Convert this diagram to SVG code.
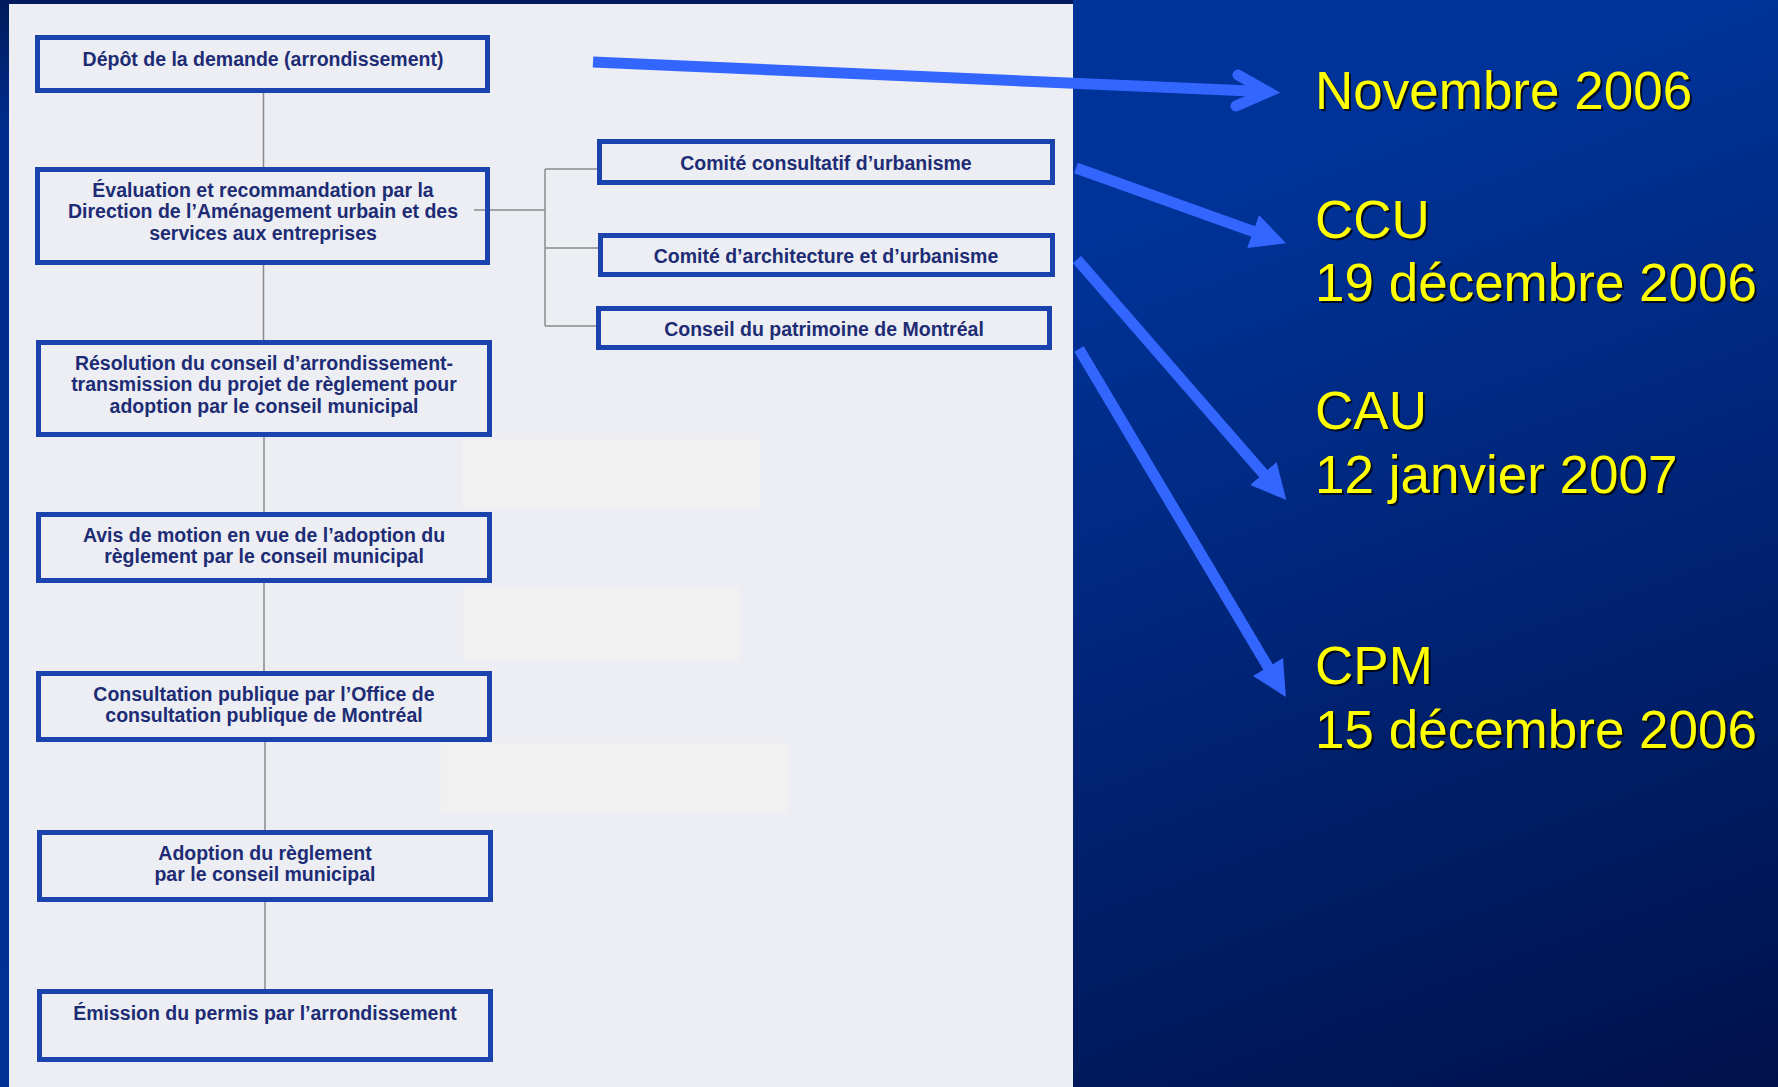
<svg xmlns="http://www.w3.org/2000/svg" width="1778" height="1087" viewBox="0 0 1778 1087">
<defs>
<linearGradient id="bg" x1="0.55" y1="0.25" x2="1" y2="1">
<stop offset="0" stop-color="#003399"/>
<stop offset="1" stop-color="#00114a"/>
</linearGradient>
<linearGradient id="strip" x1="0" y1="0" x2="0" y2="1">
<stop offset="0" stop-color="#001a5c"/>
<stop offset="0.12" stop-color="#002d8e"/>
<stop offset="1" stop-color="#003096"/>
</linearGradient>
<marker id="tri" markerUnits="userSpaceOnUse" markerWidth="36" markerHeight="36" viewBox="0 -18 36 36" refX="1" refY="0" orient="auto">
<path d="M0,-17.5 L35,0 L0,17.5 z" fill="#3366ff"/>
</marker>
<style>
.box{fill:none;stroke:#1a43ad;stroke-width:5}
.bt{font-family:"Liberation Sans",Arial,sans-serif;font-weight:bold;font-size:19.5px;fill:#1d2c74;text-anchor:middle}
.con{stroke:#8a8a8a;stroke-width:1.5;fill:none}
.arr{stroke:#3366ff;stroke-width:11;fill:none}
.yt{font-family:"Liberation Sans",Arial,sans-serif;font-size:53px;fill:#ffff00}
.sh{font-family:"Liberation Sans",Arial,sans-serif;font-size:53px;fill:#000;opacity:0.75}
.patch{fill:#f1f1f2}
</style>
</defs>
<rect x="0" y="0" width="1778" height="1087" fill="url(#bg)"/>
<rect x="0" y="0" width="1073" height="1087" fill="url(#strip)"/>
<rect x="0" y="0" width="1073" height="4" fill="#001a5c"/>
<rect x="9" y="4" width="1064" height="1083" fill="#eceef3"/>
<rect class="patch" x="462" y="439" width="298" height="70"/>
<rect class="patch" x="463" y="588" width="277" height="72"/>
<rect class="patch" x="441" y="743" width="346" height="70"/>

<g id="connectors">
<line class="con" x1="263.5" y1="93" x2="263.5" y2="167"/>
<line class="con" x1="263.5" y1="265" x2="263.5" y2="340"/>
<line class="con" x1="264" y1="437" x2="264" y2="512"/>
<line class="con" x1="264" y1="583" x2="264" y2="671"/>
<line class="con" x1="265" y1="742" x2="265" y2="830"/>
<line class="con" x1="265" y1="902" x2="265" y2="989"/>
<line class="con" x1="474" y1="210" x2="545" y2="210"/>
<line class="con" x1="545" y1="169" x2="545" y2="326"/>
<line class="con" x1="545" y1="169" x2="598" y2="169"/>
<line class="con" x1="545" y1="248" x2="598" y2="248"/>
<line class="con" x1="545" y1="326" x2="597" y2="326"/>
<line class="arr" x1="593" y1="62" x2="1262" y2="91.5" stroke-linecap="butt"/>
<polyline class="arr" points="1238,75 1268,92 1236,106" stroke-linecap="round" stroke-linejoin="miter" stroke-width="12"/>
<line class="arr" x1="1076" y1="168" x2="1254" y2="231.8" marker-end="url(#tri)"/>
<line class="arr" x1="1077" y1="259.5" x2="1264" y2="474.3" marker-end="url(#tri)"/>
<line class="arr" x1="1079" y1="349" x2="1268.5" y2="667.8" marker-end="url(#tri)"/>
</g>

<g id="n1"><rect class="box" x="37.5" y="37.5" width="450" height="53"/>
<text class="bt" x="263" y="65.5">Dépôt de la demande (arrondissement)</text></g>
<g id="n2"><rect class="box" x="37.5" y="169.5" width="450" height="93"/>
<text class="bt" x="263" y="196.5">Évaluation et recommandation par la</text>
<text class="bt" x="263" y="218">Direction de l’Aménagement urbain et des</text>
<text class="bt" x="263" y="239.5">services aux entreprises</text></g>
<g id="n3"><rect class="box" x="38.5" y="342.5" width="451" height="92"/>
<text class="bt" x="264" y="369.5">Résolution du conseil d’arrondissement-</text>
<text class="bt" x="264" y="391">transmission du projet de règlement pour</text>
<text class="bt" x="264" y="412.5">adoption par le conseil municipal</text></g>
<g id="n4"><rect class="box" x="38.5" y="514.5" width="451" height="66"/>
<text class="bt" x="264" y="541.5">Avis de motion en vue de l’adoption du</text>
<text class="bt" x="264" y="563">règlement par le conseil municipal</text></g>
<g id="n5"><rect class="box" x="38.5" y="673.5" width="451" height="66"/>
<text class="bt" x="264" y="700.5">Consultation publique par l’Office de</text>
<text class="bt" x="264" y="722">consultation publique de Montréal</text></g>
<g id="n6"><rect class="box" x="39.5" y="832.5" width="451" height="67"/>
<text class="bt" x="265" y="859.5">Adoption du règlement</text>
<text class="bt" x="265" y="881">par le conseil municipal</text></g>
<g id="n7"><rect class="box" x="39.5" y="991.5" width="451" height="68"/>
<text class="bt" x="265" y="1019.5">Émission du permis par l’arrondissement</text></g>
<g id="ccu"><rect class="box" x="599.5" y="141.5" width="453" height="41"/>
<text class="bt" x="826" y="169.5">Comité consultatif d’urbanisme</text></g>
<g id="cau"><rect class="box" x="600.5" y="235.5" width="452" height="39"/>
<text class="bt" x="826" y="262.5">Comité d’architecture et d’urbanisme</text></g>
<g id="cpm"><rect class="box" x="598.5" y="308.5" width="451" height="39"/>
<text class="bt" x="824" y="335.5">Conseil du patrimoine de Montréal</text></g>

<g id="dates">
<text class="sh" x="1317" y="111">Novembre 2006</text>
<text class="yt" x="1315" y="109">Novembre 2006</text>
<text class="sh" x="1317" y="240">CCU</text>
<text class="yt" x="1315" y="238">CCU</text>
<text class="sh" x="1317" y="303">19 décembre 2006</text>
<text class="yt" x="1315" y="301">19 décembre 2006</text>
<text class="sh" x="1317" y="431">CAU</text>
<text class="yt" x="1315" y="429">CAU</text>
<text class="sh" x="1317" y="495">12 janvier 2007</text>
<text class="yt" x="1315" y="493">12 janvier 2007</text>
<text class="sh" x="1317" y="686">CPM</text>
<text class="yt" x="1315" y="684">CPM</text>
<text class="sh" x="1317" y="750">15 décembre 2006</text>
<text class="yt" x="1315" y="748">15 décembre 2006</text>
</g>
</svg>
